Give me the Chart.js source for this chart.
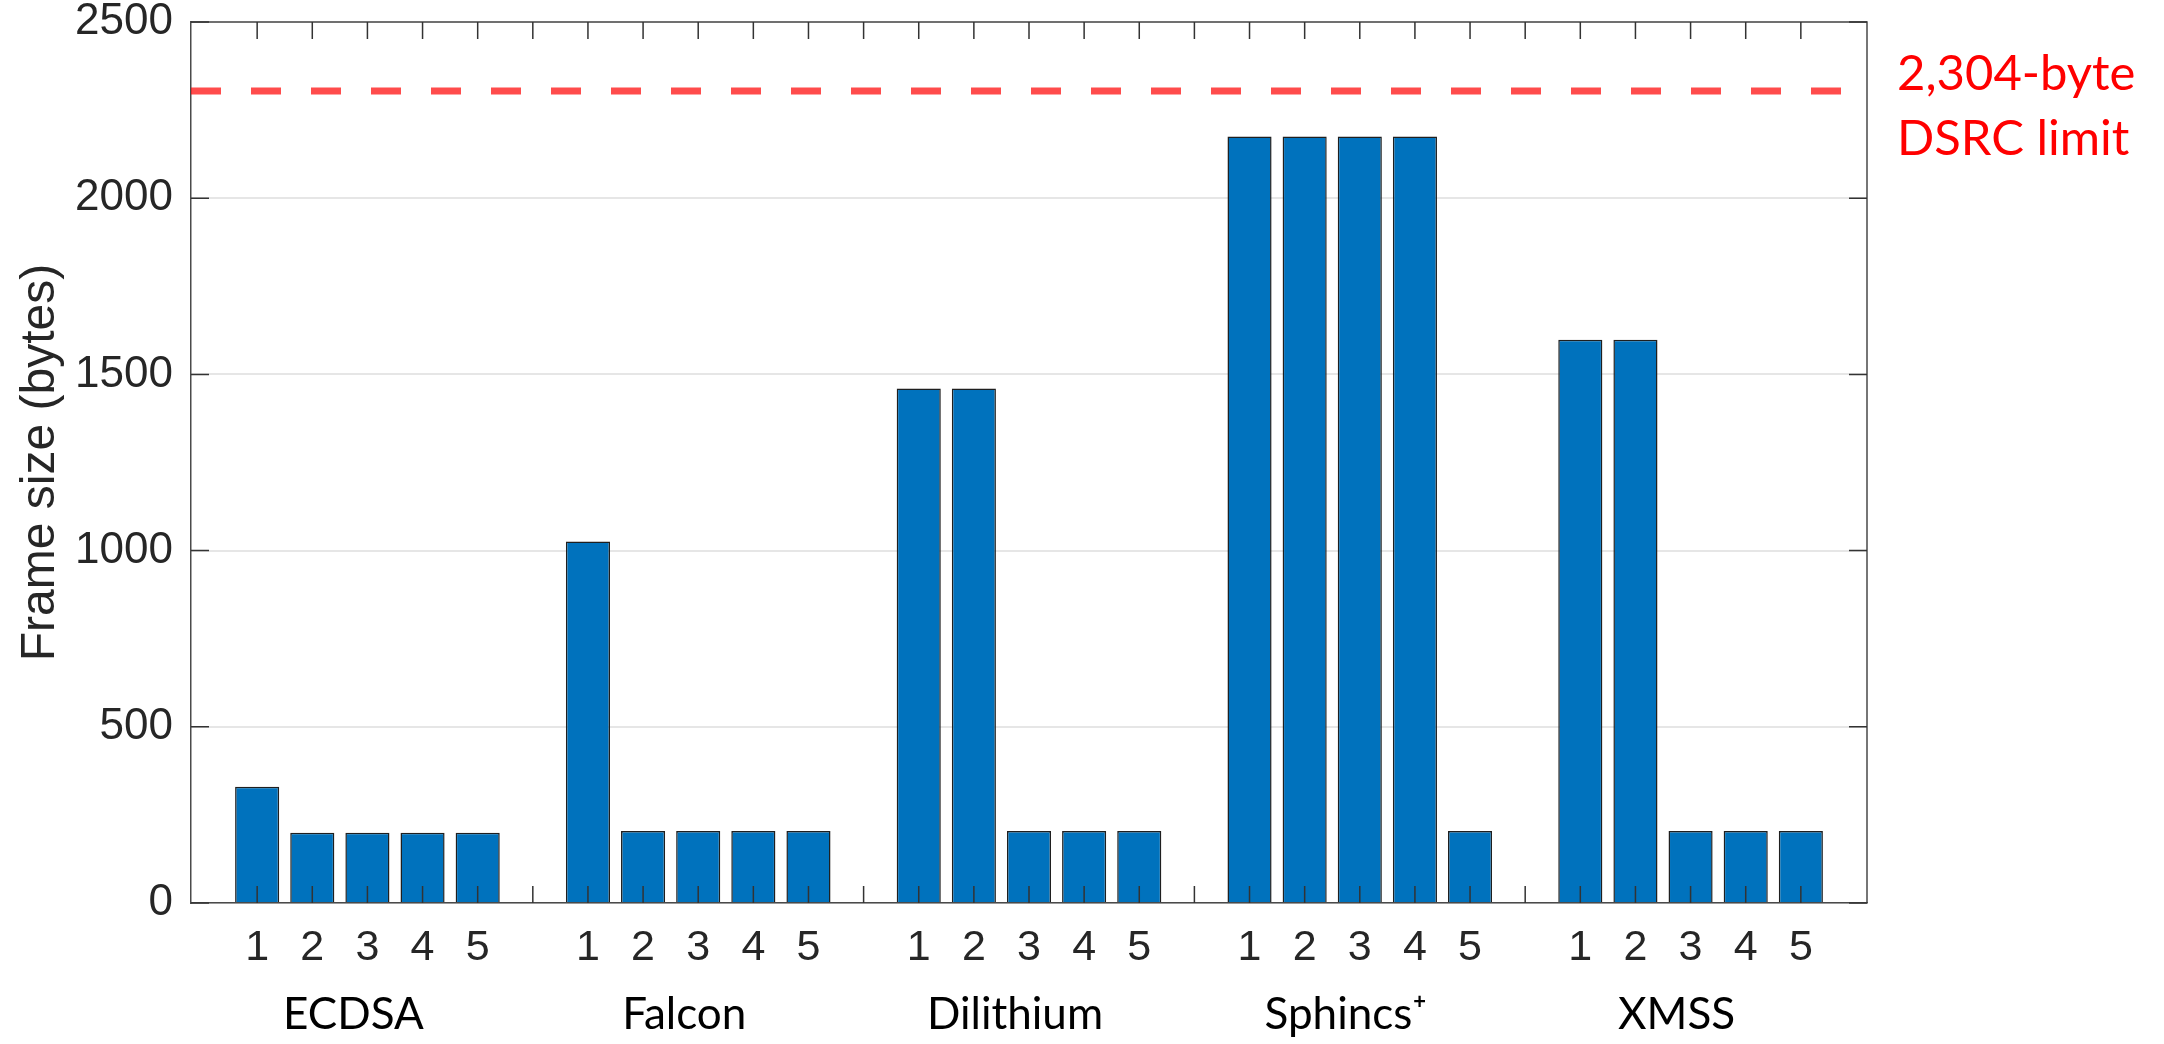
<!DOCTYPE html>
<html>
<head>
<meta charset="utf-8">
<script src="https://cdn.jsdelivr.net/npm/chart.js"></script>
<style>
  html, body { margin: 0; padding: 0; background: #fff; }
  #wrap { width: 2164px; height: 1044px; }
</style>
</head>
<body>
<div id="wrap"><canvas id="frameChart" width="2164" height="1044"></canvas></div>
<script>
// Ma'lumotlar
const groups = ['ECDSA', 'Falcon', 'Dilithium', 'Sphincs\u207A', 'XMSS'];
const configLabels = ['1', '2', '3', '4', '5'];
const ecdsaSizes = [330, 199, 199, 199, 199];
const falconSizes = [1026, 204, 204, 204, 204];
const dilithiumSizes = [1460, 1460, 204, 204, 204];
const sphincsSizes = [2175, 2175, 2175, 2175, 204];
const xmssSizes = [1598, 1598, 204, 204, 204];
const yTicks = [0, 500, 1000, 1500, 2000, 2500];
const DSRC_LIMIT = 2304;
const limitLines = ['2,304-byte', 'DSRC limit'];

const allSizes = [ecdsaSizes, falconSizes, dilithiumSizes, sphincsSizes, xmssSizes];

// har bir guruhdan keyin bitta bo'sh joy
const points = [];
const tickPos = [];
const tickText = {};
const groupCenters = [];
allSizes.forEach((arr, g) => {
    arr.forEach((v, i) => {
        const x = g * (configLabels.length + 1) + i;
        points.push({ x: x, y: v });
        tickPos.push(x);
        tickText[x] = configLabels[i];
    });
    groupCenters.push(g * (configLabels.length + 1) + 2);
    if (g < allSizes.length - 1) tickPos.push(g * (configLabels.length + 1) + configLabels.length);
});
tickPos.sort((a, b) => a - b);

const axisColor = '#4a4a4a';

// MATLAB uslubidagi ichki tiklar, ramka va chegara chizig'i
const matlabBox = {
    id: 'matlabBox',
    afterDatasetsDraw(chart) {
        const { ctx, chartArea: a, scales: { x, y } } = chart;
        ctx.save();
        // qizil punktir chiziq
        const ly = y.getPixelForValue(DSRC_LIMIT);
        ctx.strokeStyle = 'rgba(255, 0, 0, 0.7)';
        ctx.lineWidth = 7;
        ctx.setLineDash([30, 30]);
        ctx.beginPath();
        ctx.moveTo(a.left, ly);
        ctx.lineTo(a.right, ly);
        ctx.stroke();
        ctx.setLineDash([]);

        // ramka (yuqori va o'ng)
        ctx.strokeStyle = axisColor;
        ctx.lineWidth = 1.5;
        ctx.beginPath();
        ctx.moveTo(a.left, a.top);
        ctx.lineTo(a.right, a.top);
        ctx.lineTo(a.right, a.bottom);
        ctx.stroke();

        // ichki tiklar
        ctx.strokeStyle = '#333';
        ctx.lineWidth = 1.5;
        ctx.beginPath();
        x.ticks.forEach(t => {
            const px = x.getPixelForValue(t.value);
            ctx.moveTo(px, a.top); ctx.lineTo(px, a.top + 17);
            ctx.moveTo(px, a.bottom); ctx.lineTo(px, a.bottom - 17);
        });
        y.ticks.forEach(t => {
            const py = y.getPixelForValue(t.value);
            ctx.moveTo(a.left, py); ctx.lineTo(a.left + 18, py);
            ctx.moveTo(a.right, py); ctx.lineTo(a.right - 18, py);
        });
        ctx.stroke();
        ctx.restore();
    },
    afterDraw(chart) {
        const { ctx, chartArea: a, scales: { y } } = chart;
        const ly = y.getPixelForValue(DSRC_LIMIT);
        ctx.save();
        ctx.fillStyle = '#ff0000';
        ctx.font = '49px Lato';
        ctx.textAlign = 'left';
        ctx.textBaseline = 'alphabetic';
        limitLines.forEach((s, i) => ctx.fillText(s, a.right + 30, ly - 1 + i * 65));
        ctx.restore();
    }
};

new Chart(document.getElementById('frameChart').getContext('2d'), {
    type: 'bar',
    data: {
        datasets: [{
            data: points,
            backgroundColor: '#0072BD',
            borderColor: '#1f1f1f',
            borderWidth: 1.5,
            categoryPercentage: 1,
            barPercentage: 0.8
        }]
    },
    options: {
        responsive: false,
        animation: false,
        devicePixelRatio: 1,
        layout: { padding: { top: 22, right: 297, bottom: 0, left: 0 } },
        plugins: { legend: { display: false }, tooltip: { enabled: false } },
        scales: {
            x: {
                type: 'linear',
                offset: false,
                min: -1.2,
                max: 29.2,
                weight: 0,
                grid: { display: false, drawTicks: false, offset: false },
                border: { display: true, color: axisColor, width: 1.5 },
                afterBuildTicks: s => { s.ticks = tickPos.map(v => ({ value: v })); },
                afterFit: s => { s.height = 75; s.paddingLeft = 0; s.paddingRight = 0; },
                ticks: {
                    autoSkip: false,
                    maxRotation: 0,
                    padding: 19,
                    color: '#262626',
                    font: { family: '"Liberation Sans", Arial, sans-serif', size: 43 },
                    callback: v => tickText[v] || ''
                }
            },
            x2: {
                type: 'linear',
                position: 'bottom',
                offset: false,
                min: -1.2,
                max: 29.2,
                weight: 1,
                grid: { display: false, drawTicks: false, offset: false },
                border: { display: false },
                afterBuildTicks: s => { s.ticks = groupCenters.map(v => ({ value: v })); },
                afterFit: s => { s.height = 66; s.paddingLeft = 0; s.paddingRight = 0; },
                ticks: {
                    autoSkip: false,
                    maxRotation: 0,
                    padding: 10,
                    labelOffset: -14,
                    color: '#000',
                    font: { family: 'Lato, sans-serif', size: 44 },
                    callback: v => groups[groupCenters.indexOf(v)]
                }
            },
            y: {
                min: 0,
                max: 2500,
                afterBuildTicks: s => { s.ticks = yTicks.map(v => ({ value: v })); },
                afterFit: s => { s.width = 191; s.paddingTop = 0; s.paddingBottom = 0; },
                grid: { color: '#e6e6e6', lineWidth: 2, drawTicks: false },
                border: { display: true, color: axisColor, width: 1.5 },
                ticks: {
                    padding: 18,
                    color: '#262626',
                    font: { family: '"Liberation Sans", Arial, sans-serif', size: 44, lineHeight: 0.9 },
                    callback: v => String(v)
                },
                title: {
                    display: true,
                    text: 'Frame size (bytes)',
                    color: '#262626',
                    padding: { top: 12, bottom: 0 },
                    font: { family: '"Liberation Sans", Arial, sans-serif', size: 48 }
                }
            }
        }
    },
    plugins: [matlabBox]
});
</script>
</body>
</html>
